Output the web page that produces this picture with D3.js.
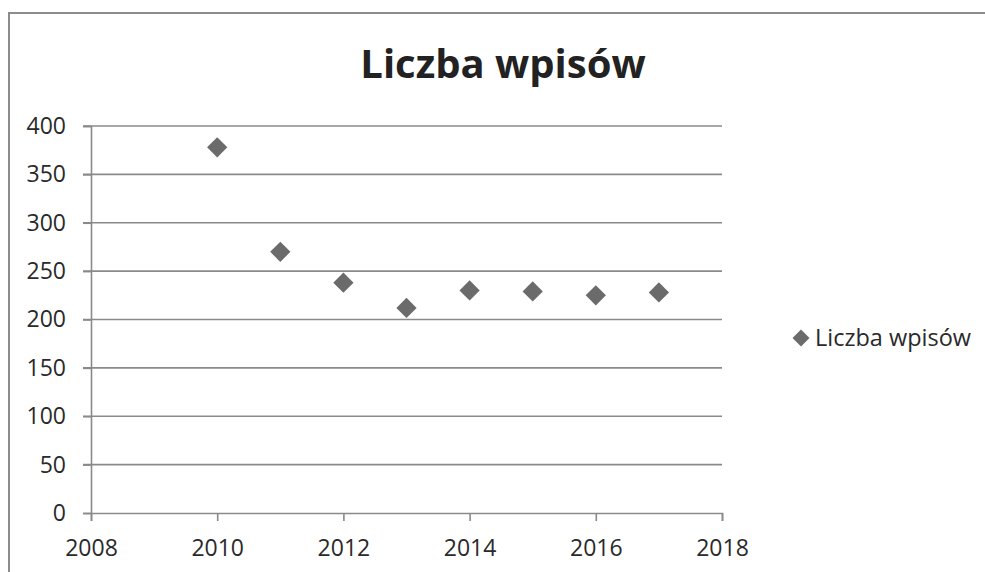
<!DOCTYPE html>
<html><head><meta charset="utf-8">
<script src="https://cdn.jsdelivr.net/npm/d3@7"></script>
<style>
body{margin:0;background:#fff;}
svg{display:block;}
</style></head>
<body>
<svg id="c" width="985" height="572"></svg>
<script>
const years = [2010, 2011, 2012, 2013, 2014, 2015, 2016, 2017];
const entries = [378, 270, 238, 212, 230, 229, 225, 228];
const xTicks = [2008, 2010, 2012, 2014, 2016, 2018];
const yTicks = [0, 50, 100, 150, 200, 250, 300, 350, 400];
const title = "Liczba wpisów";
const seriesName = "Liczba wpisów";

const svg = d3.select("#c");
const font = "'Open Sans', sans-serif";
const ink = "#2a2a2a";
const lineCol = "#8a8a8a";
const markCol = "#6b6b6b";

// chart border (left + top)
svg.append("path").attr("d","M9,572 V13 H985").attr("fill","none")
  .attr("stroke","#8c8c8c").attr("stroke-width",2);

const x = d3.scaleLinear().domain([2008, 2018]).range([91, 722]);
const y = d3.scaleLinear().domain([0, 400]).range([513, 126]);

// gridlines
svg.append("g").selectAll("line").data(yTicks.filter(d=>d>0)).join("line")
  .attr("x1", 83).attr("x2", 722)
  .attr("y1", d=>y(d)).attr("y2", d=>y(d))
  .attr("stroke", lineCol).attr("stroke-width", 1.6);

// y axis
const yAxis = svg.append("g").attr("transform","translate(91,0)")
  .call(d3.axisLeft(y).tickValues(yTicks).tickSize(8).tickPadding(17));
// x axis
const xAxis = svg.append("g").attr("transform","translate(0,513)")
  .call(d3.axisBottom(x).tickValues(xTicks).tickFormat(d3.format("d")).tickSize(8).tickPadding(19));

[yAxis, xAxis].forEach(g=>{
  g.select(".domain").attr("stroke", lineCol).attr("stroke-width",1.6);
  g.selectAll(".tick line").attr("stroke", lineCol).attr("stroke-width",1.6);
  g.selectAll("text").attr("fill", ink).style("font-family", font).style("font-size","23px");
});

// points
const diamond = d3.symbol().type(d3.symbolSquare).size(205);
svg.append("g").selectAll("path").data(years.map((yr,i)=>({yr, v:entries[i]}))).join("path")
  .attr("d", diamond)
  .attr("transform", d=>`translate(${x(d.yr)},${y(d.v)}) rotate(45)`)
  .attr("fill", markCol);

// title
svg.append("text").attr("x", 503).attr("y", 78).attr("text-anchor","middle")
  .style("font-family", font).style("font-weight","700").style("font-size","40px")
  .attr("fill", "#222").text(title);

// legend
svg.append("path").attr("d", d3.symbol().type(d3.symbolSquare).size(145))
  .attr("transform","translate(801,338) rotate(45)").attr("fill", markCol);
svg.append("text").attr("x", 815).attr("y", 346)
  .style("font-family", font).style("font-size","23.5px").attr("fill", ink).text(seriesName);
</script>
</body></html>
